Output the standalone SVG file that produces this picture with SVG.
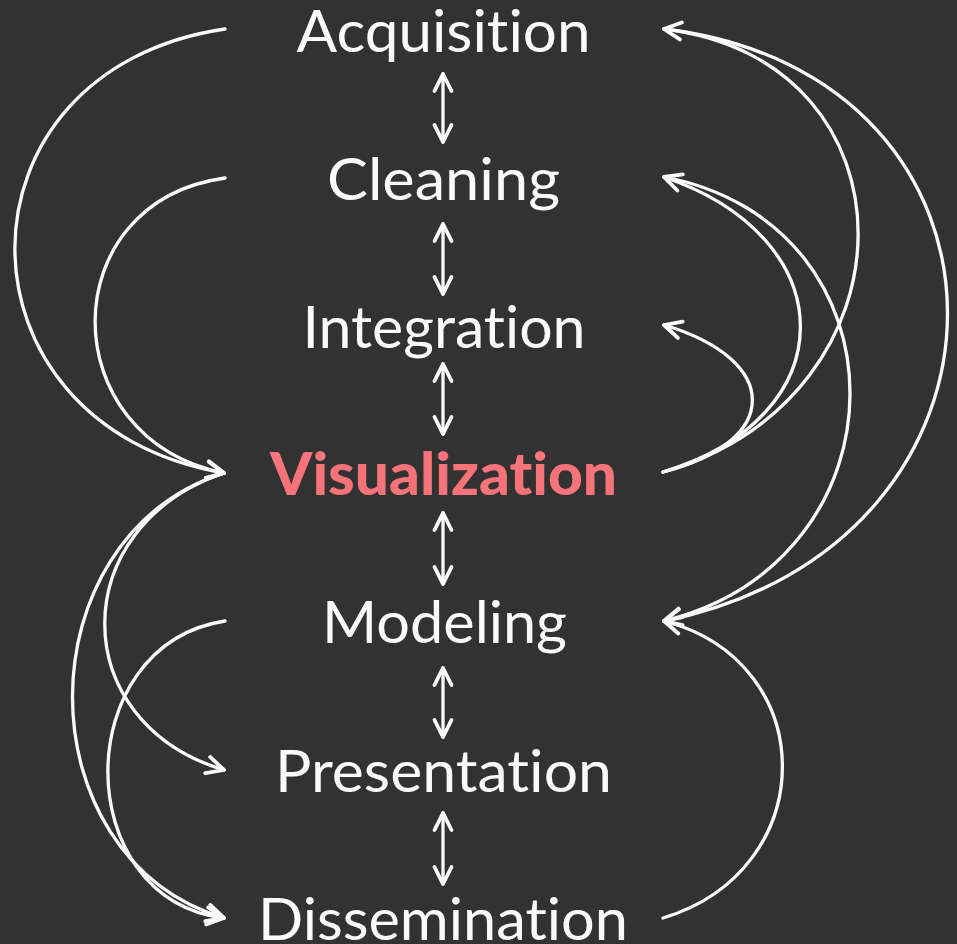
<svg xmlns="http://www.w3.org/2000/svg" width="957" height="944" viewBox="0 0 957 944">
<style>
.lbl{font-family:Lato,"Open Sans","Liberation Sans",sans-serif;font-size:59px;fill:#fafafa;text-anchor:middle;font-variant-ligatures:none;font-feature-settings:"liga" 0,"clig" 0}
.hl{font-weight:900;fill:#f7737a}
.c{fill:none;stroke:#fafafa;stroke-width:3.3;stroke-linecap:round}
</style>
<defs>
<marker id="ah" markerUnits="userSpaceOnUse" orient="auto-start-reverse" overflow="visible" refX="0" refY="0" markerWidth="1" markerHeight="1">
<path d="M-17,-8.5 L0,0 L-17,8.5" fill="none" stroke="#fafafa" stroke-width="3.8" stroke-linecap="round" stroke-linejoin="round"/>
</marker>
</defs>
<rect width="957" height="944" fill="#323232"/>
<g id="acquisition"><text class="lbl" x="443.5" y="52" textLength="294" lengthAdjust="spacingAndGlyphs">Acquisition</text></g>
<g id="cleaning"><text class="lbl" x="443.5" y="200" textLength="233" lengthAdjust="spacingAndGlyphs">Cleaning</text></g>
<g id="integration"><text class="lbl" x="444" y="348" textLength="283" lengthAdjust="spacingAndGlyphs">Integration</text></g>
<g id="visualization"><text class="lbl hl" x="443.5" y="495" textLength="347" lengthAdjust="spacingAndGlyphs">Visualization</text></g>
<g id="modeling"><text class="lbl" x="444.5" y="643" textLength="245" lengthAdjust="spacingAndGlyphs">Modeling</text></g>
<g id="presentation"><text class="lbl" x="443.5" y="792" textLength="337" lengthAdjust="spacingAndGlyphs">Presentation</text></g>
<g id="dissemination"><text class="lbl" x="443" y="940" textLength="370" lengthAdjust="spacingAndGlyphs">Dissemination</text></g>
<g id="connectors">
<path class="c" d="M443,74 L443,142" marker-start="url(#ah)" marker-end="url(#ah)"/>
<path class="c" d="M443,224 L443,294" marker-start="url(#ah)" marker-end="url(#ah)"/>
<path class="c" d="M443,364 L443,434" marker-start="url(#ah)" marker-end="url(#ah)"/>
<path class="c" d="M443,513 L443,584" marker-start="url(#ah)" marker-end="url(#ah)"/>
<path class="c" d="M443,668 L443,737" marker-start="url(#ah)" marker-end="url(#ah)"/>
<path class="c" d="M443,813 L443,884" marker-start="url(#ah)" marker-end="url(#ah)"/>
<path class="c" d="M225,29 C-55,70 -55,425 224,473" marker-end="url(#ah)"/>
<path class="c" d="M225,178 C52,202 52,438 224,473" marker-end="url(#ah)"/>
<path class="c" d="M224,473 C65,527 65,722 224,770" marker-end="url(#ah)"/>
<path class="c" d="M224,473 C22,538 22,857 224,918" marker-end="url(#ah)"/>
<path class="c" d="M225,621 C69,645 69,899 224,918" marker-end="url(#ah)"/>
<path class="c" d="M663,472 C782,442 782,360 664,325" marker-end="url(#ah)"/>
<path class="c" d="M663,472 C846,417 846,239 664,177" marker-end="url(#ah)"/>
<path class="c" d="M663,472 C923,397 923,60 664,29" marker-end="url(#ah)"/>
<path class="c" d="M664,177 C912,224 912,559 664,621" marker-end="url(#ah)"/>
<path class="c" d="M664,29 C1042,74 1042,545 664,621" marker-end="url(#ah)"/>
<path class="c" d="M663,918 C822,870 822,662 664,621" marker-end="url(#ah)"/>
</g>
</svg>
